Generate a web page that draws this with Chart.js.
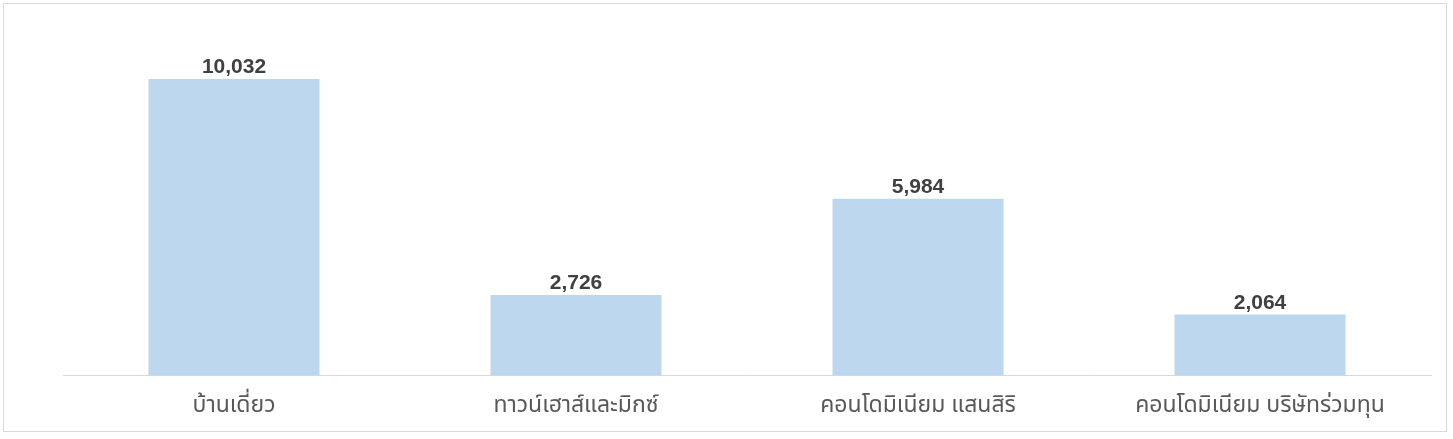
<!DOCTYPE html>
<html>
<head>
<meta charset="utf-8">
<script src="https://cdn.jsdelivr.net/npm/chart.js@4.4.1/dist/chart.umd.min.js"></script>
<style>
  html, body { margin: 0; padding: 0; background: #ffffff; overflow: hidden; }
  #frame { position: absolute; left: 3px; top: 3px; width: 1444px; height: 429px; border: 1px solid #d9d9d9; box-sizing: border-box; }
  #wrap { position: absolute; left: 0; top: 0; width: 1453px; height: 441px; }
</style>
</head>
<body>
<div id="frame"></div>
<div id="wrap"><canvas id="c"></canvas></div>
<script>
const categories = ['บ้านเดี่ยว', 'ทาวน์เฮาส์และมิกซ์', 'คอนโดมิเนียม แสนสิริ', 'คอนโดมิเนียม บริษัทร่วมทุน'];
const values = [10032, 2726, 5984, 2064];
const yMax = 12000;

const valueLabels = {
  id: 'valueLabels',
  afterDatasetsDraw(chart) {
    const ctx = chart.ctx;
    const meta = chart.getDatasetMeta(0);
    ctx.save();
    ctx.font = 'bold 21px "Liberation Sans", Arial, sans-serif';
    ctx.fillStyle = '#404040';
    ctx.textAlign = 'center';
    ctx.textBaseline = 'bottom';
    meta.data.forEach((bar, i) => {
      ctx.fillText(values[i].toLocaleString('en-US'), bar.x, bar.y - 1);
    });
    ctx.restore();
  }
};

new Chart(document.getElementById('c'), {
  type: 'bar',
  data: {
    labels: categories,
    datasets: [{
      data: values,
      backgroundColor: '#bdd7ee',
      borderWidth: 0,
      categoryPercentage: 1.0,
      barPercentage: 0.5
    }]
  },
  options: {
    responsive: true,
    maintainAspectRatio: false,
    animation: false,
    layout: { padding: { left: 63, right: 22, top: 21, bottom: 2 } },
    plugins: { legend: { display: false }, tooltip: { enabled: false } },
    scales: {
      x: {
        grid: { display: false, drawTicks: false },
        border: { display: true, color: '#d9d9d9', width: 1 },
        ticks: {
          color: '#595959',
          font: { size: 23, family: '"Noto Sans Thai", "Noto Sans", "DejaVu Sans", sans-serif' },
          padding: 18,
          maxRotation: 0
        }
      },
      y: {
        display: false,
        min: 0,
        max: yMax
      }
    }
  },
  plugins: [valueLabels]
});
</script>
</body>
</html>
